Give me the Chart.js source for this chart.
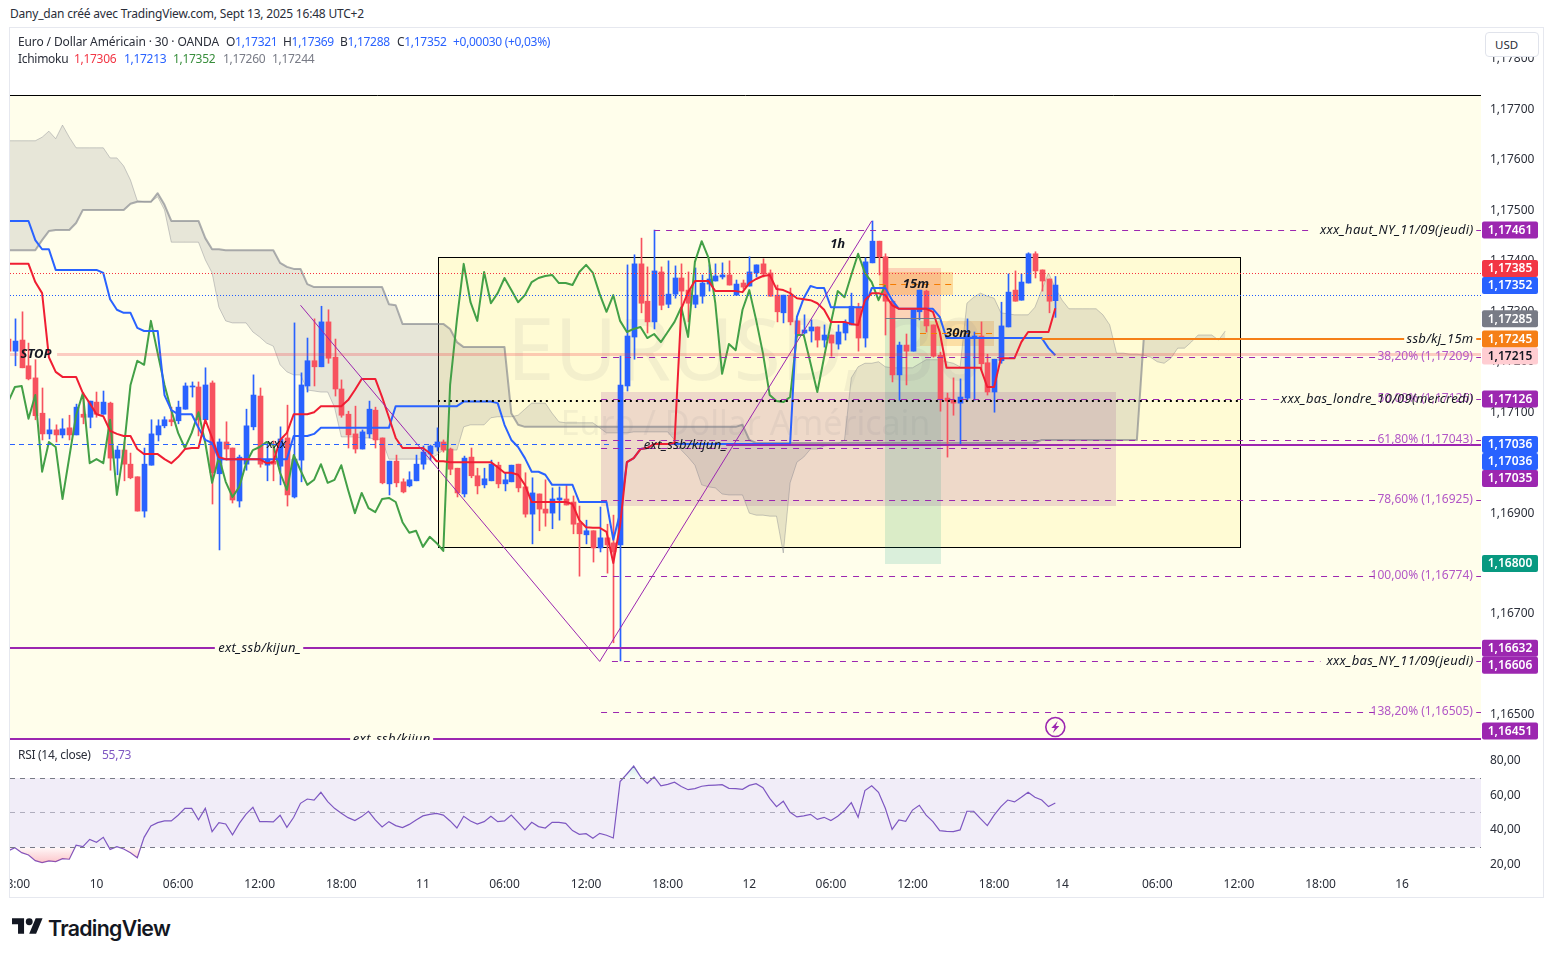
<!DOCTYPE html>
<html lang="fr"><head><meta charset="utf-8"><title>EURUSD 30</title>
<script src="https://cdn.jsdelivr.net/npm/chart.js@4"></script>
<style>
html,body{margin:0;padding:0;background:#fff;width:1553px;height:958px;overflow:hidden;font-family:"Noto Sans",sans-serif;color:#131722}
canvas{position:absolute;display:block}
.t{position:absolute;font-size:12px;white-space:nowrap;line-height:16px;color:#2a2e39;letter-spacing:-.3px}
.frame{position:absolute;left:9px;top:27px;width:1533px;height:869px;border:1px solid #e6e8ef}
.usd{position:absolute;left:1485px;top:32px;width:54px;height:25px;background:#fff;border:1px solid #e0e3eb;border-radius:4px;box-sizing:border-box;font-size:11.5px;line-height:24px;padding-left:9px;color:#2a2e39}
.b{color:#2962ff}
.brand{position:absolute;left:48px;top:913px;font:600 21.3px/30px "Inter",sans-serif;letter-spacing:-.7px;color:#131722}
</style></head><body>
<div class="t" style="left:10px;top:6px;letter-spacing:-.2px">Dany_dan créé avec TradingView.com, Sept 13, 2025 16:48 UTC+2</div>
<div class="frame"></div>
<canvas id="price" style="left:10px;top:28px" width="1533" height="712"></canvas>
<canvas id="rsi" style="left:10px;top:740px" width="1533" height="157"></canvas>
<div class="t" style="left:18px;top:34px;letter-spacing:-.12px">Euro / Dollar Américain · 30 · OANDA</div>
<div class="t" style="left:226px;top:34px">O<span class="b">1,17321</span></div>
<div class="t" style="left:283px;top:34px">H<span class="b">1,17369</span></div>
<div class="t" style="left:340px;top:34px">B<span class="b">1,17288</span></div>
<div class="t" style="left:397px;top:34px">C<span class="b">1,17352</span></div>
<div class="t" style="left:453px;top:34px;color:#2962ff">+0,00030 (+0,03%)</div>
<div class="t" style="left:18px;top:51px">Ichimoku</div>
<div class="t" style="left:74px;top:51px;color:#f23645">1,17306</div>
<div class="t" style="left:124px;top:51px;color:#2962ff">1,17213</div>
<div class="t" style="left:173px;top:51px;color:#388e3c">1,17352</div>
<div class="t" style="left:223px;top:51px;color:#787b86">1,17260</div>
<div class="t" style="left:272px;top:51px;color:#787b86">1,17244</div>
<div class="t" style="left:18px;top:747px">RSI (14, close)</div>
<div class="t" style="left:102px;top:747px;color:#7e57c2">55,73</div>
<div class="usd">USD</div>
<svg style="position:absolute;left:12px;top:917px" width="31" height="18" viewBox="0 3 36 20"><path fill="#131722" d="M14 22H7V11H0V4h14v18zM28 22h-8l7.5-18h8L28 22z"/><circle fill="#131722" cx="20" cy="8" r="4"/></svg>
<div class="brand">TradingView</div>
<script>
const firstBar=-13;
const opens=[1.17243,1.17219,1.17241,1.17190,1.17166,1.17096,1.17055,1.17063,1.17053,1.17067,1.17053,1.17094,1.17088,1.17118,1.17094,1.17116,1.17007,1.17023,1.16995,1.16970,1.16902,1.16993,1.17053,1.17071,1.17083,1.17081,1.17104,1.17148,1.17148,1.17083,1.17156,1.16976,1.17039,1.17027,1.16922,1.16995,1.17069,1.17130,1.16993,1.17001,1.16991,1.17047,1.16930,1.17003,1.17150,1.17200,1.17188,1.17277,1.17207,1.17144,1.17094,1.17055,1.17025,1.17055,1.17102,1.17047,1.16956,1.17001,1.16960,1.16952,1.16962,1.16995,1.17015,1.17029,1.17039,1.17025,1.16987,1.16936,1.17009,1.16972,1.16954,1.16962,1.16993,1.16956,1.16960,1.16995,1.16950,1.16896,1.16936,1.16906,1.16898,1.16924,1.16926,1.16920,1.16878,1.16855,1.16863,1.16829,1.16849,1.16839,1.16835,1.17150,1.17247,1.17392,1.17318,1.17277,1.17376,1.17312,1.17332,1.17364,1.17340,1.17312,1.17328,1.17352,1.17358,1.17366,1.17370,1.17330,1.17354,1.17348,1.17374,1.17392,1.17374,1.17330,1.17295,1.17330,1.17279,1.17255,1.17259,1.17267,1.17241,1.17251,1.17233,1.17255,1.17271,1.17306,1.17245,1.17394,1.17437,1.17406,1.17318,1.17172,1.17231,1.17219,1.17297,1.17338,1.17271,1.17211,1.17126,1.17122,1.17116,1.17126,1.17247,1.17249,1.17196,1.17138,1.17200,1.17267,1.17340,1.17320,1.17354,1.17412,1.17380,1.17362,1.17319];
const highs=[1.17243,1.17283,1.17297,1.17235,1.17202,1.17146,1.17085,1.17073,1.17085,1.17092,1.17114,1.17136,1.17120,1.17138,1.17140,1.17118,1.17031,1.17039,1.17017,1.16970,1.17027,1.17083,1.17083,1.17089,1.17108,1.17120,1.17156,1.17158,1.17158,1.17186,1.17160,1.17045,1.17079,1.17027,1.17013,1.17104,1.17172,1.17146,1.17039,1.17041,1.17069,1.17112,1.17275,1.17176,1.17245,1.17283,1.17308,1.17301,1.17243,1.17162,1.17100,1.17110,1.17063,1.17120,1.17108,1.17047,1.17001,1.17013,1.16966,1.16980,1.17013,1.17031,1.17033,1.17067,1.17043,1.17027,1.16987,1.17011,1.17027,1.16987,1.16987,1.17003,1.16999,1.16978,1.16993,1.16995,1.16978,1.16968,1.16936,1.16964,1.16948,1.16950,1.16954,1.16932,1.16912,1.16884,1.16863,1.16910,1.16876,1.16894,1.17209,1.17390,1.17410,1.17443,1.17386,1.17459,1.17386,1.17398,1.17388,1.17392,1.17376,1.17384,1.17370,1.17390,1.17392,1.17394,1.17398,1.17360,1.17360,1.17406,1.17390,1.17402,1.17380,1.17350,1.17330,1.17344,1.17279,1.17291,1.17281,1.17267,1.17271,1.17251,1.17271,1.17281,1.17334,1.17314,1.17404,1.17477,1.17437,1.17412,1.17318,1.17237,1.17253,1.17301,1.17340,1.17340,1.17271,1.17217,1.17136,1.17166,1.17164,1.17283,1.17257,1.17277,1.17213,1.17203,1.17316,1.17372,1.17378,1.17372,1.17414,1.17416,1.17380,1.17362,1.17367];
const lows=[1.17219,1.17190,1.17186,1.17162,1.17083,1.17043,1.17045,1.17039,1.17047,1.17043,1.17053,1.17075,1.17067,1.17088,1.17094,1.16983,1.16974,1.16962,1.16966,1.16902,1.16890,1.16993,1.17041,1.17067,1.17071,1.17075,1.17104,1.17128,1.17051,1.17083,1.16916,1.16825,1.17003,1.16918,1.16910,1.16983,1.17063,1.16989,1.16962,1.16962,1.16954,1.16912,1.16928,1.16960,1.17138,1.17150,1.17188,1.17195,1.17130,1.17088,1.17027,1.17017,1.17025,1.17047,1.17027,1.16956,1.16934,1.16950,1.16938,1.16950,1.16962,1.16985,1.17003,1.17021,1.17019,1.16974,1.16930,1.16930,1.16968,1.16936,1.16948,1.16962,1.16948,1.16942,1.16960,1.16940,1.16890,1.16837,1.16863,1.16872,1.16867,1.16884,1.16914,1.16857,1.16773,1.16837,1.16801,1.16821,1.16779,1.16641,1.16605,1.17140,1.17203,1.17295,1.17255,1.17263,1.17301,1.17305,1.17324,1.17297,1.17277,1.17305,1.17314,1.17338,1.17358,1.17362,1.17350,1.17330,1.17342,1.17348,1.17366,1.17366,1.17328,1.17277,1.17275,1.17271,1.17247,1.17253,1.17237,1.17227,1.17227,1.17209,1.17223,1.17241,1.17271,1.17219,1.17227,1.17394,1.17370,1.17251,1.17158,1.17122,1.17152,1.17219,1.17281,1.17257,1.17207,1.17100,1.17009,1.17092,1.17035,1.17122,1.17122,1.17182,1.17132,1.17098,1.17195,1.17267,1.17318,1.17320,1.17354,1.17364,1.17338,1.17295,1.17286];
const closes=[1.17219,1.17239,1.17186,1.17164,1.17091,1.17055,1.17063,1.17053,1.17065,1.17053,1.17108,1.17088,1.17120,1.17094,1.17118,1.17007,1.17023,1.16995,1.16968,1.16902,1.16995,1.17055,1.17071,1.17083,1.17079,1.17108,1.17150,1.17150,1.17083,1.17152,1.16978,1.17039,1.17025,1.16924,1.17009,1.17071,1.17132,1.16995,1.17003,1.16995,1.17045,1.16934,1.17005,1.17152,1.17200,1.17188,1.17277,1.17205,1.17144,1.17092,1.17053,1.17025,1.17059,1.17104,1.17043,1.16958,1.17001,1.16958,1.16940,1.16964,1.16995,1.17019,1.17031,1.17039,1.17023,1.16985,1.16938,1.17007,1.16972,1.16952,1.16966,1.16995,1.16956,1.16964,1.16993,1.16948,1.16896,1.16938,1.16906,1.16898,1.16926,1.16928,1.16914,1.16876,1.16857,1.16863,1.16829,1.16849,1.16835,1.16821,1.17152,1.17249,1.17392,1.17314,1.17277,1.17378,1.17310,1.17332,1.17364,1.17338,1.17314,1.17330,1.17354,1.17362,1.17368,1.17370,1.17350,1.17352,1.17346,1.17376,1.17390,1.17372,1.17328,1.17297,1.17330,1.17277,1.17253,1.17261,1.17267,1.17241,1.17251,1.17235,1.17257,1.17275,1.17308,1.17245,1.17396,1.17437,1.17406,1.17318,1.17172,1.17231,1.17219,1.17301,1.17340,1.17269,1.17209,1.17124,1.17120,1.17116,1.17128,1.17249,1.17249,1.17194,1.17138,1.17203,1.17269,1.17336,1.17318,1.17356,1.17412,1.17378,1.17358,1.17318,1.17350];
const tenkan=[
1.17392,1.17392,1.17392,1.17392,1.17356,1.17334,1.17207,1.17178,1.17168,1.17168,
1.17168,1.17136,1.17116,1.17094,1.17090,1.17061,1.17055,1.17051,1.17051,1.17025,
1.17015,1.17015,1.17015,1.17005,1.16997,1.17009,1.17025,1.17027,1.17027,1.17083,
1.17047,1.17009,1.17005,1.17005,1.17005,1.17005,1.17005,1.17005,1.16997,1.16999,
1.17043,1.17057,1.17094,1.17094,1.17094,1.17098,1.17110,1.17110,1.17110,1.17110,
1.17122,1.17142,1.17164,1.17164,1.17164,1.17128,1.17088,1.17047,1.17027,1.17027,
1.17027,1.17027,1.17017,1.17001,1.17001,1.16999,1.16999,1.16999,1.16999,1.16999,
1.16999,1.16999,1.16989,1.16978,1.16978,1.16974,1.16954,1.16920,1.16920,1.16920,
1.16920,1.16920,1.16920,1.16916,1.16884,1.16870,1.16869,1.16869,1.16861,1.16799,
1.16874,1.16999,1.17007,1.17025,1.17027,1.17035,1.17035,1.17035,1.17037,1.17303,
1.17336,1.17358,1.17358,1.17358,1.17338,1.17338,1.17338,1.17338,1.17336,1.17354,
1.17362,1.17368,1.17370,1.17342,1.17340,1.17334,1.17324,1.17322,1.17320,1.17314,
1.17301,1.17277,1.17277,1.17277,1.17273,1.17271,1.17320,1.17334,1.17334,1.17330,
1.17310,1.17303,1.17303,1.17303,1.17303,1.17303,1.17297,1.17257,1.17186,1.17186,
1.17186,1.17186,1.17186,1.17186,1.17148,1.17148,1.17205,1.17205,1.17205,1.17237,
1.17257,1.17257,1.17257,1.17257,1.17304];
const kijun=[
1.17477,1.17477,1.17477,1.17477,1.17439,1.17421,1.17421,1.17380,1.17380,1.17380,
1.17380,1.17380,1.17380,1.17380,1.17374,1.17322,1.17301,1.17295,1.17295,1.17265,
1.17259,1.17259,1.17259,1.17132,1.17102,1.17094,1.17094,1.17094,1.17067,1.17043,
1.17037,1.17005,1.17005,1.17005,1.17005,1.17005,1.17005,1.17005,1.17005,1.17005,
1.17005,1.17005,1.17051,1.17051,1.17051,1.17055,1.17067,1.17067,1.17067,1.17067,
1.17067,1.17067,1.17067,1.17067,1.17067,1.17067,1.17067,1.17110,1.17110,1.17110,
1.17110,1.17110,1.17110,1.17110,1.17110,1.17110,1.17110,1.17119,1.17119,1.17119,
1.17119,1.17119,1.17116,1.17073,1.17043,1.17029,1.17007,1.16980,1.16980,1.16974,
1.16954,1.16954,1.16954,1.16954,1.16920,1.16920,1.16920,1.16920,1.16920,1.16845,
1.16898,1.16999,1.17007,1.17025,1.17027,1.17035,1.17035,1.17035,1.17035,1.17035,
1.17035,1.17035,1.17035,1.17035,1.17035,1.17035,1.17035,1.17035,1.17035,1.17035,
1.17035,1.17035,1.17035,1.17035,1.17035,1.17035,1.17287,1.17324,1.17348,1.17344,
1.17344,1.17306,1.17306,1.17306,1.17306,1.17306,1.17306,1.17344,1.17344,1.17344,
1.17320,1.17303,1.17303,1.17303,1.17303,1.17303,1.17303,1.17287,1.17245,1.17245,
1.17245,1.17245,1.17245,1.17245,1.17245,1.17245,1.17245,1.17245,1.17245,1.17245,
1.17245,1.17245,1.17245,1.17225,1.17211];
const chikou=[
1.17118,1.17148,1.17150,1.17085,1.17132,1.16980,1.17039,1.17029,1.16926,1.17009,
1.17092,1.17136,1.16997,1.17005,1.16997,1.17083,1.16934,1.17023,1.17152,1.17200,
1.17192,1.17279,1.17215,1.17152,1.17102,1.17057,1.17027,1.17057,1.17098,1.17037,
1.16958,1.17009,1.16960,1.16930,1.16950,1.16997,1.17023,1.17029,1.17039,1.17033,
1.16978,1.16944,1.17013,1.16983,1.16954,1.16964,1.16995,1.16958,1.16964,1.16993,
1.16944,1.16898,1.16938,1.16908,1.16900,1.16926,1.16928,1.16920,1.16880,1.16859,
1.16863,1.16831,1.16851,1.16839,1.16823,1.17152,1.17281,1.17392,1.17316,1.17279,
1.17376,1.17314,1.17334,1.17364,1.17340,1.17316,1.17330,1.17356,1.17364,1.17368,
1.17370,1.17354,1.17354,1.17350,1.17376,1.17390,1.17374,1.17332,1.17297,1.17330,
1.17279,1.17257,1.17263,1.17267,1.17245,1.17253,1.17237,1.17257,1.17277,1.17306,
1.17247,1.17396,1.17437,1.17404,1.17314,1.17174,1.17233,1.17221,1.17301,1.17340,
1.17281,1.17215,1.17132,1.17120,1.17118,1.17128,1.17251,1.17251,1.17195,1.17138,
1.17207,1.17275,1.17338,1.17326,1.17370,1.17412,1.17374,1.17356,1.17320,1.17350];
const spanA=[
1.17636,1.17636,1.17636,1.17636,1.17636,1.17643,1.17655,1.17640,1.17667,1.17643,
1.17622,1.17622,1.17622,1.17622,1.17622,1.17602,1.17602,1.17586,1.17558,1.17517,
1.17515,1.17515,1.17525,1.17499,1.17435,1.17435,1.17435,1.17435,1.17435,1.17400,
1.17374,1.17306,1.17279,1.17275,1.17275,1.17275,1.17257,1.17247,1.17235,1.17229,
1.17192,1.17178,1.17172,1.17172,1.17142,1.17140,1.17138,1.17138,1.17108,1.17049,
1.17049,1.17049,1.17047,1.17047,1.17045,1.17043,1.17005,1.17005,1.17005,1.17005,
1.17005,1.17005,1.17005,1.17013,1.17023,1.17023,1.17023,1.17069,1.17073,1.17073,
1.17073,1.17087,1.17089,1.17089,1.17089,1.17092,1.17104,1.17116,1.17116,1.17116,
1.17096,1.17079,1.17077,1.17077,1.17077,1.17077,1.17077,1.17067,1.17057,1.17057,
1.17057,1.17057,1.17059,1.17059,1.17059,1.17059,1.17059,1.17059,1.17043,1.17023,
1.17009,1.16993,1.16954,1.16950,1.16948,1.16936,1.16934,1.16934,1.16934,1.16898,
1.16894,1.16894,1.16892,1.16892,1.16819,1.16958,1.16999,1.17009,1.17025,1.17025,
1.17031,1.17033,1.17035,1.17043,1.17166,1.17188,1.17195,1.17195,1.17198,1.17188,
1.17186,1.17186,1.17186,1.17186,1.17194,1.17202,1.17202,1.17202,1.17198,1.17195,
1.17188,1.17314,1.17326,1.17334,1.17328,1.17324,1.17295,1.17293,1.17291,1.17291,
1.17291,1.17306,1.17340,1.17374,1.17344,1.17320,1.17303,1.17303,1.17303,1.17303,
1.17303,1.17291,1.17271,1.17215,1.17215,1.17213,1.17213,1.17211,1.17207,1.17198,
1.17195,1.17205,1.17225,1.17225,1.17237,1.17251,1.17251,1.17251,1.17241,1.17259];
const spanB=[
1.17419,1.17419,1.17419,1.17419,1.17419,1.17439,1.17457,1.17459,1.17459,1.17459,
1.17473,1.17499,1.17499,1.17499,1.17499,1.17499,1.17499,1.17499,1.17511,1.17515,
1.17515,1.17515,1.17532,1.17509,1.17477,1.17477,1.17477,1.17477,1.17477,1.17443,
1.17421,1.17421,1.17419,1.17419,1.17419,1.17419,1.17419,1.17419,1.17419,1.17419,
1.17394,1.17386,1.17382,1.17382,1.17352,1.17346,1.17346,1.17346,1.17346,1.17346,
1.17346,1.17346,1.17346,1.17346,1.17346,1.17346,1.17312,1.17310,1.17273,1.17273,
1.17273,1.17273,1.17273,1.17273,1.17273,1.17263,1.17237,1.17227,1.17227,1.17227,
1.17227,1.17227,1.17227,1.17227,1.17096,1.17073,1.17069,1.17069,1.17069,1.17069,
1.17069,1.17069,1.17069,1.17069,1.17069,1.17069,1.17069,1.17069,1.17069,1.17069,
1.17069,1.17069,1.17069,1.17069,1.17069,1.17069,1.17069,1.17069,1.17069,1.17069,
1.17069,1.17069,1.17069,1.17069,1.17069,1.17069,1.17069,1.17069,1.17073,1.17043,
1.17037,1.17037,1.17037,1.17037,1.17037,1.17037,1.17037,1.17037,1.17037,1.17037,
1.17037,1.17037,1.17037,1.17037,1.17037,1.17037,1.17037,1.17037,1.17037,1.17037,
1.17037,1.17037,1.17037,1.17037,1.17037,1.17037,1.17037,1.17037,1.17037,1.17037,
1.17037,1.17037,1.17037,1.17037,1.17037,1.17037,1.17037,1.17037,1.17037,1.17037,
1.17037,1.17037,1.17043,1.17043,1.17043,1.17043,1.17043,1.17043,1.17043,1.17043,
1.17043,1.17043,1.17043,1.17043,1.17043,1.17043,1.17043,1.17243,1.17243,1.17243,
1.17243,1.17243,1.17243,1.17243,1.17243,1.17243,1.17243,1.17243,1.17243,1.17243];
const rsiValues=[27.9,29.8,26.9,25.6,22.3,21.1,22.1,21.7,23.4,23.1,31.2,30.4,34.6,32.9,35.8,28.8,30.4,29.0,26.9,24.0,35.8,42.4,44.3,45.3,45.3,48.6,52.6,52.6,45.9,52.6,39.1,44.3,43.5,37.2,43.9,49.3,53.2,44.9,44.9,44.7,48.6,41.6,47.4,55.5,58.0,57.4,61.9,56.5,52.6,49.7,47.2,45.5,47.8,50.9,45.9,41.8,44.9,42.6,41.4,43.3,45.9,48.2,49.1,49.7,48.7,45.3,41.2,48.0,45.3,43.5,44.9,48.0,44.9,45.3,48.7,44.5,40.1,44.5,42.0,41.2,44.5,44.5,43.9,39.7,37.5,37.9,35.2,38.1,37.0,35.4,68.1,72.5,77.1,71.0,67.1,70.8,65.6,66.5,67.7,65.2,63.4,64.0,65.4,65.9,66.1,66.3,64.2,64.0,63.6,65.9,66.9,64.6,58.4,53.6,56.7,50.3,47.6,48.2,49.1,46.2,47.4,45.5,48.0,51.3,55.9,47.4,62.9,65.7,61.9,52.6,40.4,45.9,45.1,51.6,54.4,48.7,44.9,39.7,39.3,39.1,40.1,50.9,50.9,46.6,42.6,48.7,53.6,57.4,56.3,59.0,61.9,59.0,57.4,53.6,55.7];
const priceTicks=[1.178,1.177,1.176,1.175,1.174,1.173,1.172,1.171,1.170,1.169,1.168,1.167,1.166,1.165];
const rsiTicks=[80,60,40,20];
const xTickBars=[-12,0,12,24,36,48,60,72,84,96,108,120,132,142,156,168,180,192];
const xTickLabels=["18:00","10","06:00","12:00","18:00","11","06:00","12:00","18:00","12","06:00","12:00","18:00","14","06:00","12:00","18:00","16"];
const tagPrices=[1.17461,1.17385,1.17352,1.17285,1.17245,1.17215,1.17126,1.17036,1.17036,1.17035,1.16800,1.16632,1.16606,1.16451];
const fibPrices=[1.17209,1.17126,1.17043,1.16925,1.16774,1.16505];
const fibLabels=["38,20% (1,17209)","50,00% (1,17126)","61,80% (1,17043)","78,60% (1,16925)","100,00% (1,16774)","138,20% (1,16505)"];
const zigzagBars=[30,74,114];
const zigzagPrices=[1.17312,1.16606,1.17479];

/* ---- styling and layout, separate from the values ---- */
const FONT='"Noto Sans",sans-serif';
const PURPLE='#9c27b0',BLUE='#2962ff',CANDLE_RED='#f7525f';
const X_MIN=-12.72,X_MAX=203.6,PANE_TOP=1.17729,Y_MAX=1.178615,Y_MIN=1.164503;
const READ_CAL=0.00002; /* calibration of values */
const barAt=k=>firstBar+k;
const D=[6,6];
const levelLines=[
 {p:1.17374,c:'#f7303f',d:[1,2],w:1,s:[[X_MIN,X_MAX]]},
 {p:1.17332,c:'#1f5bff',d:[1,2],w:1,s:[[X_MIN,X_MAX]]},
 {p:1.17215,c:'rgba(242,54,69,.25)',w:3,s:[[X_MIN,-11.5],[-5.8,X_MAX]]},
 {p:1.17245,c:'#f57f17',w:2,s:[[139,192.3],[202.9,X_MAX]]},
 {p:1.17285,c:'#787b86',w:1,s:[[116,124.2]]},
 {p:1.17036,c:BLUE,d:[5,4],w:1,s:[[X_MIN,75.8]]},
 {p:1.17035,c:PURPLE,w:2,s:[[92.6,X_MAX]]},
 {p:1.16632,c:PURPLE,w:2,s:[[X_MIN,17.4],[30.4,X_MAX]]},
 {p:1.16453,c:PURPLE,w:2,s:[[X_MIN,37.3],[49.5,X_MAX]]},
 {p:1.17461,c:PURPLE,d:D,w:1,s:[[82,179],[202.9,X_MAX]]},
 {p:1.16606,c:PURPLE,d:D,w:1,s:[[75.8,180],[202.9,X_MAX]]},
 {p:1.17029,c:PURPLE,d:D,w:1,s:[[74.2,149.9]]},
 {p:1.17123,c:'#000',d:[2,4],w:2,s:[[50.2,168.15]]},
 {p:fibPrices[0],c:PURPLE,d:D,w:1,s:[[74.2,188.9],[202.9,X_MAX]]},
 {p:fibPrices[1],c:PURPLE,d:D,w:1,s:[[74.2,174],[202.9,X_MAX]]},
 {p:fibPrices[2],c:PURPLE,d:D,w:1,s:[[74.2,188.9],[202.9,X_MAX]]},
 {p:fibPrices[3],c:PURPLE,d:D,w:1,s:[[74.2,188.9],[202.9,X_MAX]]},
 {p:fibPrices[4],c:PURPLE,d:D,w:1,s:[[74.2,188],[202.9,X_MAX]]},
 {p:fibPrices[5],c:PURPLE,d:D,w:1,s:[[74.2,188],[202.9,X_MAX]]},
 {p:1.17354,c:'#f57c00',d:[6,5],w:1,s:[[115.1,125.9]]},
 {p:1.17256,c:'#f57c00',d:[6,5],w:1,s:[[121.1,132]]}
];
const levelData=l=>{const a=[];l.s.forEach(g=>{a.push({x:g[0],y:l.p},{x:g[1],y:l.p},{x:g[1]+.001,y:null});});return a;};
const rects=[
 {x:[50.2,168.15],p:[1.17408,1.16833],f:'rgba(255,235,59,.13)',b:'#000'},
 {x:[74.2,149.9],p:[1.17140,1.16915],f:'rgba(140,30,140,.15)'},
 {x:[116,124.2],p:[1.17386,1.17285],f:'rgba(242,54,69,.2)'},
 {x:[116,124.2],p:[1.17285,1.16800],f:'rgba(8,153,129,.15)'},
 {x:[115.1,125.9],p:[1.17378,1.17332],f:'rgba(245,140,20,.28)'},
 {x:[121.1,132],p:[1.17281,1.17231],f:'rgba(245,140,20,.25)'}
];
const boldNotes=[
 {t:'1h',b:109,p:1.17433},{t:'15m',b:120.5,p:1.17354},{t:'30m',b:126.7,p:1.17256},{t:'STOP',b:-8.9,p:1.17215}
];
const italicNotes=[
 {t:'xxx_haut_NY_11/09(jeudi)',b:202.5,p:1.17461,a:'right'},
 {t:'ssb/kj_15m',b:202.5,p:1.17245,a:'right'},
 {t:'xxx_bas_londre_10/09(mercredi)',b:202.5,p:1.17126,a:'right'},
 {t:'xxx_bas_NY_11/09(jeudi)',b:202.5,p:1.16606,a:'right'},
 {t:'ext_ssb/kijun_',b:24,p:1.16632,a:'center'},
 {t:'ext_ssb/kijun',b:43.4,p:1.16451,a:'center'},
 {t:'ext_ssb/kijun_',b:86.6,p:1.17035,a:'center'},
 {t:'xxx',b:26.5,p:1.17036,a:'center'}
];
const tagColors=[PURPLE,'#f23645',BLUE,'#787b86','#f57f17','#ffcdd2',PURPLE,BLUE,BLUE,PURPLE,'#089981',PURPLE,PURPLE,PURPLE];
const bolt={b:141,p:1.16476};

/* snap candle bars to whole pixels, the way the original draws them */
const origBar=Chart.BarElement.prototype.draw;
Chart.BarElement.prototype.draw=function(ctx){const x=this.x;this.x=Math.round(x)+.5;origBar.call(this,ctx);this.x=x;};

/* horizontal levels land on whole pixel rows */
const snapLevels={id:'snapLevels',
 beforeDatasetDraw(ch,args){
  const ds=ch.data.datasets[args.index];
  if(ds.levelValue===undefined)return;
  const py=ch.scales.y.getPixelForValue(ds.levelValue);
  const t=(ds.borderWidth%2?Math.floor(py)+.5:Math.round(py))-py;
  ch.ctx.save();ch.ctx.translate(0,t);
 },
 afterDatasetDraw(ch,args){
  if(ch.data.datasets[args.index].levelValue!==undefined)ch.ctx.restore();
 }
};

const candleColor=opens.map((o,k)=>closes[k]>=o?BLUE:CANDLE_RED);
const lineDs=(label,vals,color,width,order,extra)=>Object.assign({type:'line',label,data:vals.map((v,k)=>({x:barAt(k),y:v+READ_CAL})),borderColor:color,borderWidth:width,pointRadius:0,tension:0,fill:false,order,borderJoinStyle:'round'},extra||{});

const drawings={id:'drawings',
 beforeDatasetsDraw(ch){
  const {ctx,chartArea:a,scales:{x,y}}=ch;
  ctx.save();ctx.beginPath();ctx.rect(a.left,a.top,a.width,a.height);ctx.clip();
  const top=y.getPixelForValue(PANE_TOP);
  ctx.fillStyle='#fffeeb';ctx.fillRect(a.left,top,a.width,a.bottom-top);
  rects.forEach(r=>{
   const x0=Math.round(x.getPixelForValue(r.x[0])),x1=Math.round(x.getPixelForValue(r.x[1]));
   const y0=Math.round(y.getPixelForValue(r.p[0])),y1=Math.round(y.getPixelForValue(r.p[1]));
   ctx.fillStyle=r.f;ctx.fillRect(x0,y0,x1-x0,y1-y0);
   if(r.b){ctx.strokeStyle=r.b;ctx.lineWidth=1;ctx.strokeRect(x0+.5,y0+.5,x1-x0,y1-y0);}
  });
  ctx.fillStyle='rgba(120,123,134,.09)';ctx.textAlign='center';ctx.textBaseline='middle';
  const cx=(a.left+a.right)/2;
  ctx.font='86px '+FONT;ctx.fillText('EURUSD, 30',cx,y.getPixelForValue(1.17212));
  ctx.font='34px '+FONT;ctx.fillText('Euro / Dollar Américain',cx,y.getPixelForValue(1.17074));
  ctx.strokeStyle='#000';ctx.lineWidth=1;ctx.beginPath();ctx.moveTo(a.left,Math.round(top)+.5);ctx.lineTo(a.right,Math.round(top)+.5);ctx.stroke();
  ctx.restore();
 },
 afterDatasetsDraw(ch){
  const {ctx,scales:{x,y}}=ch;
  ctx.save();ctx.textBaseline='middle';
  ctx.fillStyle='#131722';ctx.textAlign='center';ctx.font='italic 700 13px '+FONT;
  boldNotes.forEach(n=>ctx.fillText(n.t,x.getPixelForValue(n.b),y.getPixelForValue(n.p)));
  ctx.fillStyle='#b257c6';ctx.font='12px '+FONT;ctx.textAlign='right';
  fibLabels.forEach((t,k)=>ctx.fillText(t,x.getPixelForValue(202.4),y.getPixelForValue(fibPrices[k])-1));
  ctx.fillStyle='#131722';ctx.font='italic 13px '+FONT;ctx.letterSpacing='.3px';
  italicNotes.forEach(n=>{ctx.textAlign=n.a;ctx.fillText(n.t,x.getPixelForValue(n.b),y.getPixelForValue(n.p));});
  ctx.letterSpacing='0px';
  const bx=x.getPixelForValue(bolt.b),by=y.getPixelForValue(bolt.p);
  ctx.fillStyle='#fffeeb';ctx.strokeStyle=PURPLE;ctx.lineWidth=1.6;ctx.beginPath();ctx.arc(bx,by,9.5,0,Math.PI*2);ctx.fill();ctx.stroke();
  ctx.fillStyle=PURPLE;ctx.beginPath();ctx.moveTo(bx+2.5,by-6);ctx.lineTo(bx-4,by+1);ctx.lineTo(bx-.5,by+1);ctx.lineTo(bx-2.5,by+6);ctx.lineTo(bx+4,by-1);ctx.lineTo(bx+.5,by-1);ctx.closePath();ctx.fill();
  ctx.restore();
 },
 afterDraw(ch){
  const {ctx,chartArea:a,scales:{y}}=ch;
  ctx.save();ctx.font='600 12px '+FONT;ctx.textAlign='center';ctx.textBaseline='middle';
  let prev=-99;
  tagPrices.forEach((p,k)=>{
   let py=y.getPixelForValue(p);
   if(py<prev+17)py=prev+17;
   py=Math.min(py,a.bottom-9);prev=py;
   ctx.fillStyle=tagColors[k];ctx.beginPath();ctx.roundRect(a.right+1,py-8.5,56,17,2);ctx.fill();
   ctx.fillStyle=tagColors[k]==='#ffcdd2'?'#131722':'#fff';
   ctx.fillText(p.toFixed(5).replace('.',','),a.right+29,py+.5);
  });
  ctx.restore();
 }
};
const zeroPad=s=>{s.paddingLeft=0;s.paddingRight=0;s.paddingTop=0;s.paddingBottom=0;};

new Chart(document.getElementById('price'),{
 type:'bar',
 plugins:[drawings,snapLevels],
 data:{datasets:[
  lineDs('span A',spanA,'rgba(120,123,134,.38)',1,90,{fill:'+1',backgroundColor:'rgba(120,123,134,.18)'}),
  lineDs('span B',spanB,'rgba(120,123,134,.6)',2,89),
  {type:'bar',label:'wicks',data:opens.map((o,k)=>({x:barAt(k),y:[lows[k]+READ_CAL,highs[k]+READ_CAL]})),backgroundColor:candleColor,barThickness:1,grouped:false,order:60},
  {type:'bar',label:'bodies',data:opens.map((o,k)=>({x:barAt(k),y:[o+READ_CAL,closes[k]+READ_CAL]})),backgroundColor:candleColor,barThickness:5,grouped:false,order:59,minBarLength:1},
  lineDs('chikou',chikou,'#43a047',2,52),
  lineDs('kijun',kijun,BLUE,2,51),
  lineDs('tenkan',tenkan,'#f01e33',2,50),
  {type:'line',label:'fib zigzag',data:zigzagBars.map((b,k)=>({x:b,y:zigzagPrices[k]})),borderColor:PURPLE,borderWidth:1,pointRadius:0,tension:0,order:40},
  ...levelLines.map((l,k)=>({type:'line',label:'level '+k,levelValue:l.p,data:levelData(l),borderColor:l.c,borderWidth:l.w,borderDash:l.d||[],pointRadius:0,tension:0,spanGaps:false,order:30-k}))
 ]},
 options:{responsive:false,animation:false,events:[],devicePixelRatio:1,layout:{padding:0},
  plugins:{legend:{display:false},tooltip:{enabled:false}},
  scales:{
   x:{type:'linear',min:X_MIN,max:X_MAX,offset:false,display:false,grid:{display:false},afterFit:zeroPad},
   y:{type:'linear',position:'right',min:Y_MIN,max:Y_MAX,grid:{display:false,drawTicks:false},border:{display:false},
    afterBuildTicks:s=>{s.ticks=priceTicks.map(v=>({value:v}));},
    afterFit:s=>{s.width=62;zeroPad(s);},
    ticks:{padding:9,color:'#2a2e39',font:{family:'"Noto Sans"',size:12},callback:v=>v.toFixed(5).replace('.',',')}}
  }}
});

const R_MIN=15.7,R_MAX=92.2;
const flat=(v)=>[{x:X_MIN,y:v},{x:X_MAX,y:v}];
const rctx=document.getElementById('rsi').getContext('2d');
const lowGrad=rctx.createLinearGradient(0,107,0,125);
lowGrad.addColorStop(0,'rgba(242,54,69,.03)');lowGrad.addColorStop(1,'rgba(242,54,69,.32)');
const highGrad=rctx.createLinearGradient(0,20,0,38);
highGrad.addColorStop(0,'rgba(8,153,129,.25)');highGrad.addColorStop(1,'rgba(8,153,129,.03)');
new Chart(rctx,{
 type:'line',
 plugins:[snapLevels],
 data:{datasets:[
  {label:'70',levelValue:70,data:flat(70),borderColor:'#787b86',borderWidth:1,borderDash:[5,5],pointRadius:0,fill:'+1',backgroundColor:'rgba(126,87,194,.11)'},
  {label:'30',levelValue:30,data:flat(30),borderColor:'#787b86',borderWidth:1,borderDash:[5,5],pointRadius:0,fill:false},
  {label:'50',levelValue:50,data:flat(50),borderColor:'rgba(120,123,134,.55)',borderWidth:1,borderDash:[5,5],pointRadius:0,fill:false},
  {label:'oversold',data:rsiValues.map((v,k)=>({x:barAt(k),y:v})),borderWidth:0,pointRadius:0,fill:{target:{value:30},above:'rgba(0,0,0,0)',below:lowGrad}},
  {label:'overbought',data:rsiValues.map((v,k)=>({x:barAt(k),y:v})),borderWidth:0,pointRadius:0,fill:{target:{value:70},above:highGrad,below:'rgba(0,0,0,0)'}},
  {label:'RSI',data:rsiValues.map((v,k)=>({x:barAt(k),y:v})),borderColor:'#7e57c2',borderWidth:1.2,pointRadius:0,tension:0,fill:false}
 ]},
 options:{responsive:false,animation:false,events:[],devicePixelRatio:1,layout:{padding:0},
  plugins:{legend:{display:false},tooltip:{enabled:false}},
  scales:{
   x:{type:'linear',min:X_MIN,max:X_MAX,grid:{display:false,drawTicks:false},border:{display:false},
    afterBuildTicks:s=>{s.ticks=xTickBars.map(v=>({value:v}));},
    afterFit:s=>{s.height=25;zeroPad(s);},
    ticks:{autoSkip:false,maxRotation:0,padding:5,color:'#2a2e39',font:{family:'"Noto Sans"',size:12},callback:v=>xTickLabels[xTickBars.indexOf(v)]}},
   y:{type:'linear',position:'right',min:R_MIN,max:R_MAX,grid:{display:false,drawTicks:false},border:{display:false},
    afterBuildTicks:s=>{s.ticks=rsiTicks.map(v=>({value:v}));},
    afterFit:s=>{s.width=62;zeroPad(s);},
    ticks:{padding:9,color:'#2a2e39',font:{family:'"Noto Sans"',size:12},callback:v=>v.toFixed(2).replace('.',',')}}
  }}
});
</script></body></html>
